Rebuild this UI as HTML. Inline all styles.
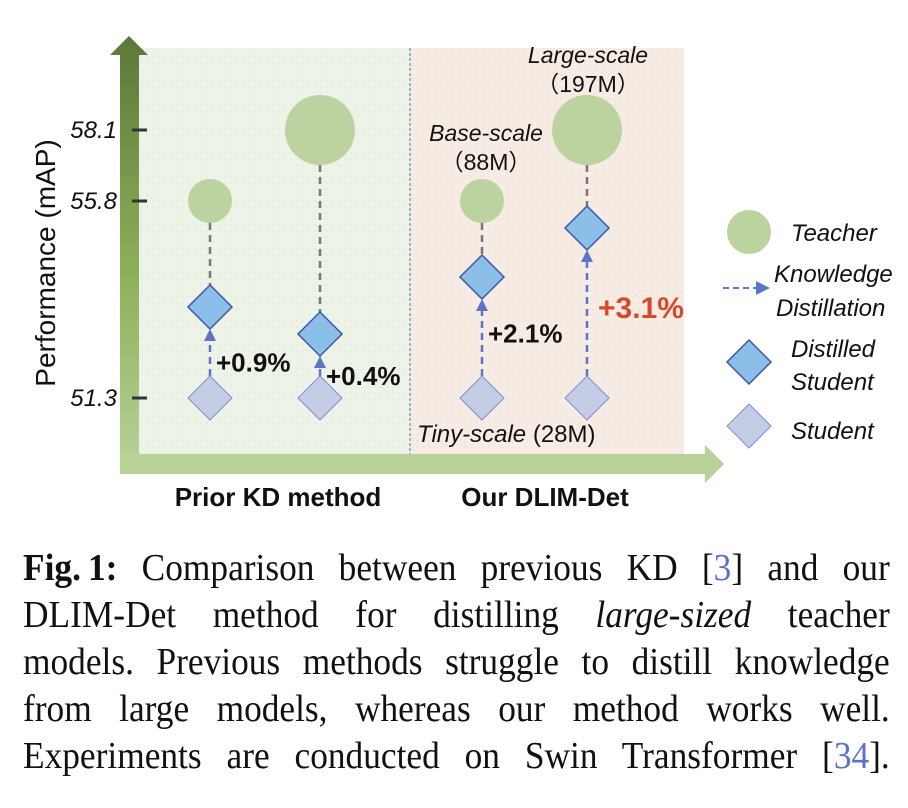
<!DOCTYPE html>
<html><head><meta charset="utf-8"><style>
body{margin:0;width:908px;height:808px;background:#fff;overflow:hidden;position:relative}
#cap{position:absolute;left:23px;top:545px;width:932px;transform:scaleX(0.93);transform-origin:0 0;font-family:"Liberation Serif",serif;font-size:38px;line-height:47px;color:#111}
#cap div{text-align:justify;text-align-last:justify;white-space:nowrap}
#cap .r{color:#5a73c8}
</style></head><body>
<svg id="chart" width="908" height="530" style="position:absolute;left:0;top:0" font-family="'Liberation Sans',sans-serif">
<defs>
<linearGradient id="vg" x1="0" y1="0" x2="0" y2="1"><stop offset="0" stop-color="#5b7838"/><stop offset="0.55" stop-color="#8fb05a"/><stop offset="1" stop-color="#b9d29a"/></linearGradient>
<pattern id="dots" width="6" height="6" patternUnits="userSpaceOnUse"><circle cx="3" cy="3" r="0.6" fill="#c8cfd8"/></pattern>
</defs>
<rect x="139" y="48" width="271" height="406" fill="#edf3e6"/>
<rect x="410" y="48" width="274" height="406" fill="#f7ece4"/>
<rect x="139" y="48" width="545" height="406" fill="url(#dots)" opacity="0.6"/>
<line x1="410" y1="48" x2="410" y2="454" stroke="#8a9bc8" stroke-width="1.5" stroke-dasharray="3,2"/>
<polygon points="120,474 120,55 110,55 129,36 148,55 139,55 139,474" fill="url(#vg)"/>
<polygon points="120,454 705,454 705,445 724,464 705,483 705,474 120,474" fill="#b8d197"/>
<text transform="translate(55,263) rotate(-90)" text-anchor="middle" font-size="28" fill="#111">Performance (mAP)</text>
<g id="yticks"></g>
<g id="marks"></g>
<text x="278" y="506" text-anchor="middle" font-size="26" font-weight="bold" fill="#111">Prior KD method</text>
<text x="545" y="506" text-anchor="middle" font-size="26" font-weight="bold" fill="#111">Our DLIM-Det</text>
<g font-style="italic" font-size="23" fill="#111">
<text x="486" y="141" text-anchor="middle">Base-scale</text>
<text x="486" y="170" text-anchor="middle" font-style="normal">（88M）</text>
<text x="588" y="63" text-anchor="middle">Large-scale</text>
<text x="588" y="92" text-anchor="middle" font-style="normal">（197M）</text>
<text x="417" y="442" font-size="24">Tiny-scale <tspan font-style="normal">(28M)</tspan></text>
</g>
<g font-style="italic" font-size="24" fill="#111">
<circle cx="749" cy="232" r="22" fill="#bcd39f"/>
<text x="791" y="241">Teacher</text>
<line x1="723" y1="288" x2="758" y2="288" stroke="#5d74c9" stroke-width="2" stroke-dasharray="6,4"/>
<polygon points="756,281 770,288 756,295" fill="#5d74c9"/>
<text x="774" y="282">Knowledge</text>
<text x="776" y="316">Distillation</text>
<polygon points="749,340 771,362 749,384 727,362" fill="#8bbfe9" stroke="#3d56a6" stroke-width="1.5"/>
<text x="791" y="357">Distilled</text>
<text x="791" y="390">Student</text>
<polygon points="749,404 771,426 749,448 727,426" fill="#c5cde6" stroke="#7b8fd6" stroke-width="1"/>
<text x="791" y="439">Student</text>
</g>
</svg>
<div id="cap">
<div><b>Fig.&#8201;1:</b> Comparison between previous KD [<span class="r">3</span>] and our</div>
<div>DLIM-Det method for distilling <i>large-sized</i> teacher</div>
<div>models. Previous methods struggle to distill knowledge</div>
<div>from large models, whereas our method works well.</div>
<div>Experiments are conducted on Swin Transformer [<span class="r">34</span>].</div>
</div>
<script>
const groups = ["prior-base","prior-large","ours-base","ours-large"];
const teacherMAP = [55.8, 58.1, 55.8, 58.1];
const teacherSize = [88, 197, 88, 197];
const studentMAP = [51.3, 51.3, 51.3, 51.3];
const gains = [0.9, 0.4, 2.1, 3.1];
const tickValues = [51.3, 55.8, 58.1];
const tickLabels = ["51.3", "55.8", "58.1"];
const NS = "http://www.w3.org/2000/svg";
// schematic (non-linear) y axis
const yKnots = [[51.3,398],[51.7,334],[52.2,307],[53.4,277],[54.4,228],[55.8,201],[58.1,130]];
function yScale(v){
  if(v<=yKnots[0][0]) return yKnots[0][1]+(v-yKnots[0][0])*(yKnots[0][1]-yKnots[1][1])/(yKnots[0][0]-yKnots[1][0]);
  for(let i=1;i<yKnots.length;i++){const a=yKnots[i-1],b=yKnots[i];if(v<=b[0])return a[1]+(v-a[0])*(b[1]-a[1])/(b[0]-a[0]);}
  const a=yKnots[yKnots.length-2],b=yKnots[yKnots.length-1];return b[1]+(v-b[0])*(b[1]-a[1])/(b[0]-a[0]);
}
function xScale(i){ return [210,320,482,587][i]; }
function rScale(s){ return 22+(s-88)*(13/109); }
function mk(tag,attrs,parent){const e=document.createElementNS(NS,tag);for(const k in attrs)e.setAttribute(k,attrs[k]);parent.appendChild(e);return e;}
const yt=document.getElementById('yticks');
tickValues.forEach((v,i)=>{
  const y=yScale(v);
  const l=mk('line',{x1:132,x2:147,y1:y,y2:y,stroke:'#333','stroke-width':3},yt);
  
  
  const t=mk('text',{x:117,y:y+8,'text-anchor':'end','font-size':24,'font-style':'italic',fill:'#111'},yt);
  
  
  t.textContent=tickLabels[i];
});
const g=document.getElementById('marks');
const D=22;
groups.forEach((name,i)=>{
  const x=xScale(i), ty=yScale(teacherMAP[i]), r=rScale(teacherSize[i]);
  const dv=studentMAP[i]+gains[i], dy=yScale(dv), sy=yScale(studentMAP[i]);
  const gl=mk('line',{x1:x,x2:x,y1:ty+r,y2:dy-D,stroke:'#777','stroke-width':2.5,'stroke-dasharray':'7,5'},g);
  
  
  const al=mk('line',{x1:x,x2:x,y1:sy-D,y2:dy+D+10,stroke:'#5d74c9','stroke-width':2.5,'stroke-dasharray':'7,5'},g);
  
  
  const ah=mk('polygon',{points:`${x-6},${dy+D+12} ${x},${dy+D} ${x+6},${dy+D+12}`,fill:'#5d74c9'},g);
  
  
  const c=mk('circle',{cx:x,cy:ty,r:r,fill:'#bcd39f'},g);
  
  
  const d=mk('polygon',{points:`${x},${dy-D} ${x+D},${dy} ${x},${dy+D} ${x-D},${dy}`,fill:'#8bbfe9',stroke:'#3d56a6','stroke-width':1.5},g);
  
  
  const s=mk('polygon',{points:`${x},${sy-D} ${x+D},${sy} ${x},${sy+D} ${x-D},${sy}`,fill:'#c5cde6',stroke:'#7b8fd6','stroke-width':1},g);
  
  
  const red = i===3;
  const ly = i<2 ? (sy+dy+D)/2+8 : (sy+dy)/2+5;
  const t=mk('text',{x:x+(red?11:6),y:ly,'font-size':red?30:26,'font-weight':'bold',fill:red?'#d9482b':'#111'},g);
  
  
  t.textContent='+'+gains[i].toFixed(1)+'%';
});
</script>
</body></html>
